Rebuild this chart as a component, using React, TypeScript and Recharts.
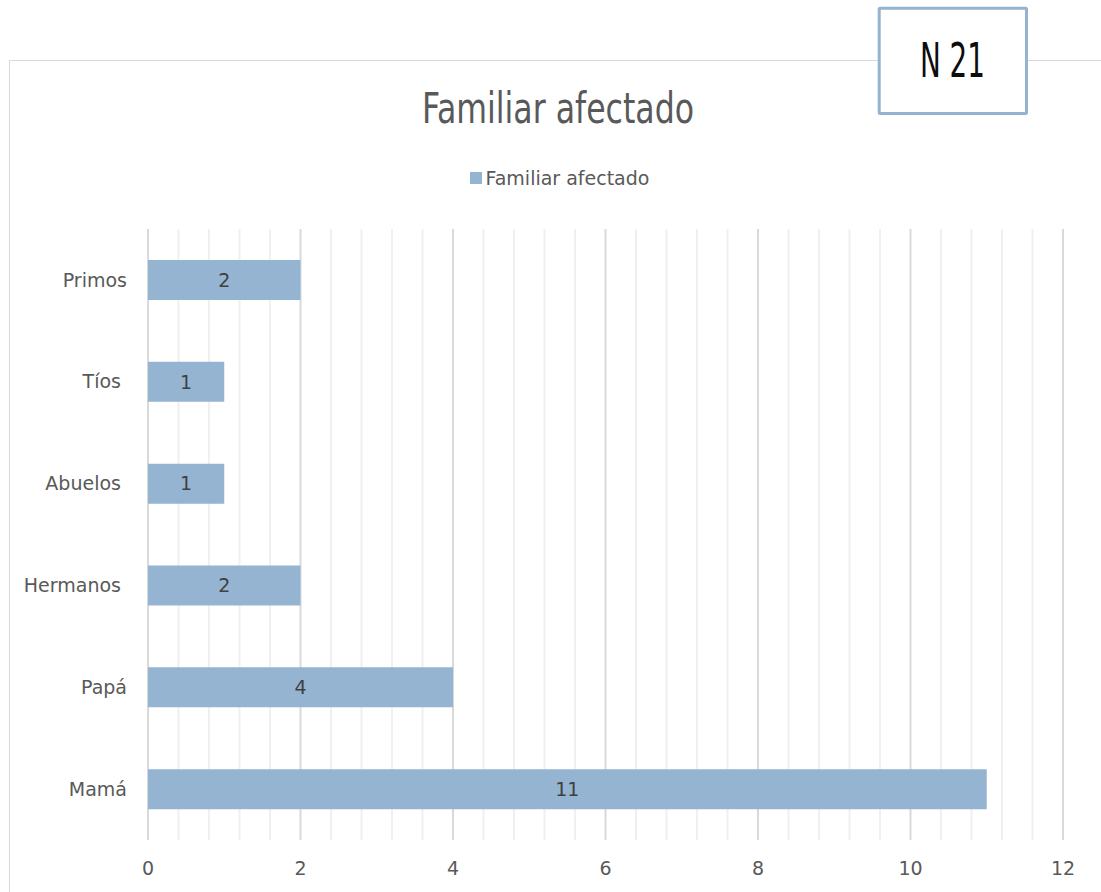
import React from "react";
import {
  BarChart,
  Bar,
  XAxis,
  YAxis,
  CartesianGrid,
  Legend,
  LabelList,
  ReferenceLine,
} from "recharts";

// Parentesco del familiar afectado y número de casos
const categories = ["Primos", "Tíos ", "Abuelos ", "Hermanos ", "Papá", "Mamá"];
const counts = [2, 1, 1, 2, 4, 11];
const xTicks = [0, 2, 4, 6, 8, 10, 12];

const SERIES = "Familiar afectado";
const BAR_COLOR = "#95b4d2";
const TEXT = "#595959";
const FONT = "'DejaVu Sans', sans-serif";
const NARROW = "'DejaVu Sans Condensed', 'Liberation Sans Narrow', sans-serif";

const W = 1101;
const H = 892;

const data = categories.map((name, i) => ({ name, value: counts[i] }));

// líneas secundarias cada 0.4 entre las divisiones principales
const minorTicks = Array.from({ length: 31 }, (_, i) => +(i * 0.4).toFixed(1)).filter(
  (v) => v % 2 !== 0
);

const CategoryTick = (props: any) => {
  const { x, y, payload } = props;
  return (
    <text
      x={x}
      y={y}
      dy="0.35em"
      textAnchor="end"
      fill={TEXT}
      fontSize={19}
      fontFamily={FONT}
      style={{ whiteSpace: "pre" }}
    >
      {payload.value}
    </text>
  );
};

const ValueTick = (props: any) => {
  const { x, y, payload } = props;
  return (
    <text x={x} y={y} dy="0.71em" textAnchor="middle" fill={TEXT} fontSize={19} fontFamily={FONT}>
      {payload.value}
    </text>
  );
};

const LegendContent = (props: any) => {
  const items = props.payload || [];
  return (
    <div style={{ display: "flex", justifyContent: "center", alignItems: "center", height: 24 }}>
      {items.map((it: any) => (
        <div key={it.value} style={{ display: "flex", alignItems: "center" }}>
          <span style={{ width: 12, height: 12, background: BAR_COLOR, display: "inline-block" }} />
          <span style={{ marginLeft: 4, color: TEXT, fontSize: 19, fontFamily: FONT }}>{it.value}</span>
        </div>
      ))}
    </div>
  );
};

export default function App() {
  return (
    <div
      style={{
        position: "absolute",
        left: 0,
        top: 0,
        width: W,
        height: H,
        overflow: "hidden",
        background: "#fff",
      }}
    >
      <div
        style={{
          position: "absolute",
          left: 9,
          top: 60,
          width: W,
          height: H,
          border: "1px solid #d9d9d9",
          boxSizing: "border-box",
        }}
      />
      <div style={{ position: "absolute", left: 0, top: 0 }}>
        <BarChart
          width={W}
          height={H}
          data={data}
          layout="vertical"
          margin={{ top: 205, right: 38, bottom: 0, left: 0 }}
          barSize={40}
        >
          <CartesianGrid horizontal={false} stroke="#d9d9d9" strokeWidth={2} />
          {minorTicks.map((v) => (
            <ReferenceLine key={v} x={v} stroke="#f0f0f0" strokeWidth={2} zIndex={-50} />
          ))}
          <XAxis
            type="number"
            domain={[0, 12]}
            ticks={xTicks}
            axisLine={false}
            tickLine={false}
            tickMargin={16}
            height={52}
            tick={<ValueTick />}
          />
          <YAxis
            type="category"
            dataKey="name"
            width={148}
            axisLine={false}
            tickLine={false}
            tickMargin={15}
            tick={<CategoryTick />}
          />
          <Legend
            verticalAlign="top"
            content={<LegendContent />}
            wrapperStyle={{ top: 166, left: 9, width: W, height: 24 }}
          />
          <Bar dataKey="value" name={SERIES} fill={BAR_COLOR} isAnimationActive={false}>
            <LabelList
              dataKey="value"
              position="center"
              fill="#404040"
              fontSize={19}
              fontFamily={FONT}
            />
          </Bar>
        </BarChart>
      </div>
      <svg
        width={W}
        height={H}
        style={{ position: "absolute", left: 0, top: 0, pointerEvents: "none" }}
      >
        <text
          x={422}
          y={123}
          fontSize={43}
          fill={TEXT}
          fontFamily={NARROW}
          textLength={272}
          lengthAdjust="spacingAndGlyphs"
        >
          Familiar afectado
        </text>
        <rect x={879.2} y={8.2} width={147.3} height={105.3} fill="#fff" stroke="#95b3d0" strokeWidth={3} rx={1} />
        <text
          x={920}
          y={77}
          fontSize={48}
          fill="#0d0d0d"
          fontFamily={NARROW}
          textLength={65}
          lengthAdjust="spacingAndGlyphs"
        >
          N 21
        </text>
      </svg>
    </div>
  );
}
